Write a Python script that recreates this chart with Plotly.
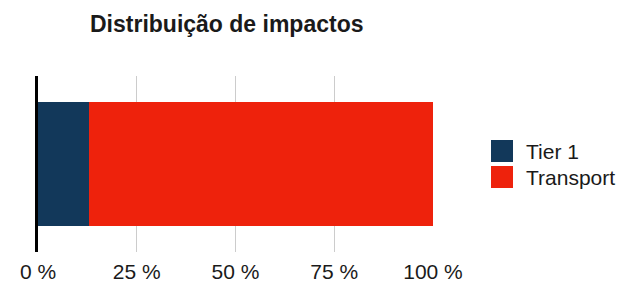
import plotly.graph_objects as go

categories = [""]
series_names = ["Tier 1", "Transport"]
tier1_values = [0.13]
transport_values = [0.87]
colors = ["#12385a", "#ee220c"]
tick_values = [0, 0.25, 0.5, 0.75, 1.0]
tick_labels = ["0 %", "25 %", "50 %", "75 %", "100 %"]
title_text = "Distribuição de impactos"

FONT = "Liberation Sans, Helvetica, Arial, sans-serif"

fig = go.Figure()
for name, vals, col in zip(series_names, [tier1_values, transport_values], colors):
    fig.add_trace(go.Bar(
        y=categories, x=vals, name=name, orientation="h",
        marker=dict(color=col, line=dict(width=0)), showlegend=False,
    ))

# custom legend (large square swatches)
for i, (name, col) in enumerate(zip(series_names, colors)):
    y0 = 140 + i * 26
    fig.add_shape(type="rect", xref="paper", yref="paper",
                  x0=(491 - 38) / 395, x1=(513 - 38) / 395,
                  y0=(252 - (y0 + 22)) / 176, y1=(252 - y0) / 176,
                  fillcolor=col, line=dict(width=0))
    fig.add_annotation(xref="paper", yref="paper",
                       x=(524 - 38) / 395, y=(252 - (y0 + 11)) / 176,
                       text=name, showarrow=False, xanchor="left", yanchor="middle",
                       font=dict(family=FONT, size=21, color="#1a1a1a"))

fig.add_annotation(xref="paper", yref="paper", x=(226.5 - 38) / 395, y=(252 - 24) / 176,
                   text="<b>" + title_text + "</b>", showarrow=False,
                   xanchor="center", yanchor="middle",
                   font=dict(family=FONT, size=23, color="#1a1a1a"))

fig.update_layout(
    width=620, height=282,
    margin=dict(l=38, r=187, t=76, b=30),
    paper_bgcolor="white", plot_bgcolor="white",
    barmode="stack", bargap=0.3,
    font=dict(family=FONT, size=21, color="#1a1a1a"),
    xaxis=dict(range=[0, 1], tickvals=tick_values, ticktext=tick_labels,
               showgrid=True, gridcolor="#cccccc", gridwidth=1,
               zeroline=False, showline=False, ticks="",
               ticklabelstandoff=5, automargin=False,
               tickfont=dict(size=21, color="#1a1a1a")),
    yaxis=dict(showticklabels=False, showgrid=False, zeroline=False,
               showline=True, linecolor="black", linewidth=3, ticks="",
               automargin=False),
)

fig.write_html("out.html", config={"displayModeBar": False},
               post_script="document.body.style.margin='0';")
